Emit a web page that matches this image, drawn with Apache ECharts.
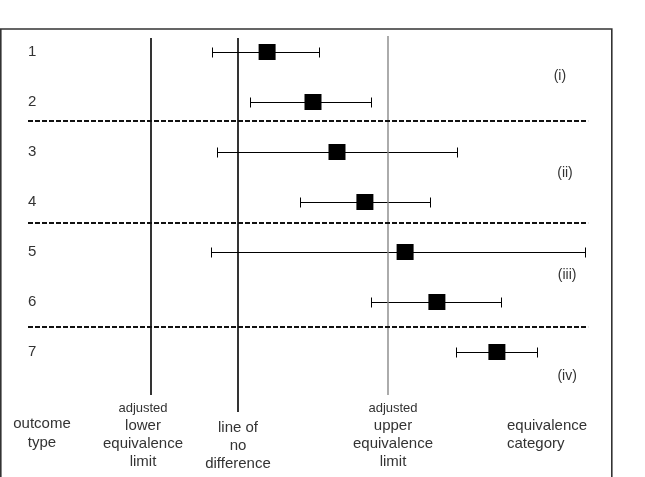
<!DOCTYPE html>
<html>
<head>
<meta charset="utf-8">
<script src="https://cdn.jsdelivr.net/npm/echarts@6/dist/echarts.min.js"></script>
<style>
  html, body { margin: 0; padding: 0; background: #fff; }
  #chart-container { width: 645px; height: 477px; }
</style>
</head>
<body>
<div id="chart-container"></div>
<script>
// outcome types (rows) and their estimates, difference scale (0 = no difference)
var outcomeRows = [1, 2, 3, 4, 5, 6, 7];
var pointEst = [0.97, 2.5, 3.3, 4.23, 5.57, 6.63, 8.63];
var ciLow = [-0.87, 0.4, -0.7, 2.07, -0.9, 4.43, 7.27];
var ciHigh = [2.7, 4.43, 7.3, 6.4, 11.57, 8.77, 9.97];

// equivalence categories, placed between the rows
var categoryNames = ['(i)', '(ii)', '(iii)', '(iv)'];
var categoryRow = [1.48, 3.42, 5.46, 7.48];
var categoryX = [10.73, 10.9, 10.97, 10.97];

// dashed separators between categories
var separatorRows = [2.38, 4.42, 6.5];
var separatorFrom = -7;
var separatorTo = 11.67;

// vertical reference lines: lower limit, no difference, upper limit
var refX = [-2.9, 0, 5];
var refTop = [0.72, 0.72, 0.68];
var refBottom = [7.86, 8.2, 7.86];

var FONT = "'Liberation Sans', Arial, sans-serif";
var TEXT_COLOR = '#333';

var container = document.getElementById('chart-container');
var myChart = echarts.init(container);

var series = [];

// reference lines
var refColors = ['#000', '#000', '#888'];
var refWidths = [1.6, 1.6, 1.4];
refX.forEach(function (x, i) {
  series.push({
    type: 'line',
    data: [[x, refTop[i]], [x, refBottom[i]]],
    symbol: 'none',
    silent: true,
    lineStyle: { color: refColors[i], width: refWidths[i], opacity: 1 }
  });
});

// separators
separatorRows.forEach(function (r) {
  series.push({
    type: 'line',
    data: [[separatorFrom, r], [separatorTo, r]],
    symbol: 'none',
    silent: true,
    lineStyle: { color: '#111', width: 1.8, type: [5, 2], opacity: 1 }
  });
});

// confidence intervals (snapped to half pixels so the 1px lines stay crisp)
series.push({
  type: 'custom',
  silent: true,
  data: outcomeRows.map(function (r, i) { return [ciLow[i], ciHigh[i], r]; }),
  renderItem: function (params, api) {
    var a = api.coord([api.value(0), api.value(2)]);
    var b = api.coord([api.value(1), api.value(2)]);
    var y = Math.round(a[1]) + 0.5;
    var x1 = Math.round(a[0]) + 0.5;
    var x2 = Math.round(b[0]) + 0.5;
    var h = 5;
    var st = { stroke: '#000', lineWidth: 1, opacity: 1 };
    return {
      type: 'group',
      children: [
        { type: 'line', shape: { x1: x1, y1: y, x2: x2, y2: y }, style: st },
        { type: 'line', shape: { x1: x1, y1: y - h, x2: x1, y2: y + h }, style: st },
        { type: 'line', shape: { x1: x2, y1: y - h, x2: x2, y2: y + h }, style: st }
      ]
    };
  },
  z: 3
});

// point estimates
series.push({
  type: 'scatter',
  silent: true,
  data: outcomeRows.map(function (r, i) { return [pointEst[i], r]; }),
  symbol: 'rect',
  symbolSize: [17, 16],
  itemStyle: { color: '#000', opacity: 1 },
  z: 4
});

// category labels
series.push({
  type: 'scatter',
  silent: true,
  data: categoryNames.map(function (n, i) { return { value: [categoryX[i], categoryRow[i]], name: n }; }),
  symbolSize: 0,
  itemStyle: { opacity: 1 },
  label: {
    show: true,
    position: 'inside',
    formatter: '{b}',
    color: TEXT_COLOR,
    opacity: 1,
    fontFamily: FONT,
    fontSize: 14
  }
});

myChart.setOption({
  animation: false,
  grid: { left: 28, right: 47, top: 2, bottom: 25 },
  xAxis: {
    type: 'value',
    min: -7,
    max: 12,
    show: false
  },
  yAxis: {
    type: 'value',
    inverse: true,
    min: 0,
    max: 9,
    interval: 1,
    axisLine: { show: false },
    axisTick: { show: false },
    splitLine: { show: false },
    axisLabel: {
      inside: true,
      margin: 0,
      padding: [0, 0, 6, 0],
      color: TEXT_COLOR,
      fontFamily: FONT,
      fontSize: 15,
      formatter: function (v) { return (v >= 1 && v <= 7) ? String(v) : ''; }
    }
  },
  graphic: [
    {
      type: 'rect',
      shape: { x: 0.8, y: 29, width: 611, height: 470 },
      style: { fill: 'none', stroke: '#333', lineWidth: 1.6 },
      silent: true
    },
    {
      type: 'text', x: 42, y: 414,
      style: { text: 'outcome\ntype', textAlign: 'center', textVerticalAlign: 'top', font: '15px ' + FONT, fill: TEXT_COLOR, lineHeight: 19 }
    },
    {
      type: 'text', x: 143, y: 399,
      style: {
        text: '{a|adjusted}\n{b|lower}\n{b|equivalence}\n{b|limit}',
        textAlign: 'center', textVerticalAlign: 'top', fill: TEXT_COLOR,
        rich: {
          a: { fontSize: 13, lineHeight: 18, fontFamily: FONT, fill: TEXT_COLOR, align: 'center' },
          b: { fontSize: 15, lineHeight: 18, fontFamily: FONT, fill: TEXT_COLOR, align: 'center' }
        }
      }
    },
    {
      type: 'text', x: 238, y: 419,
      style: { text: 'line of\nno\ndifference', textAlign: 'center', textVerticalAlign: 'top', font: '15px ' + FONT, fill: TEXT_COLOR, lineHeight: 18 }
    },
    {
      type: 'text', x: 393, y: 399,
      style: {
        text: '{a|adjusted}\n{b|upper}\n{b|equivalence}\n{b|limit}',
        textAlign: 'center', textVerticalAlign: 'top', fill: TEXT_COLOR,
        rich: {
          a: { fontSize: 13, lineHeight: 18, fontFamily: FONT, fill: TEXT_COLOR, align: 'center' },
          b: { fontSize: 15, lineHeight: 18, fontFamily: FONT, fill: TEXT_COLOR, align: 'center' }
        }
      }
    },
    {
      type: 'text', x: 507, y: 417,
      style: { text: 'equivalence\ncategory', textAlign: 'left', textVerticalAlign: 'top', font: '15px ' + FONT, fill: TEXT_COLOR, lineHeight: 18 }
    }
  ],
  series: series
});
</script>
</body>
</html>
